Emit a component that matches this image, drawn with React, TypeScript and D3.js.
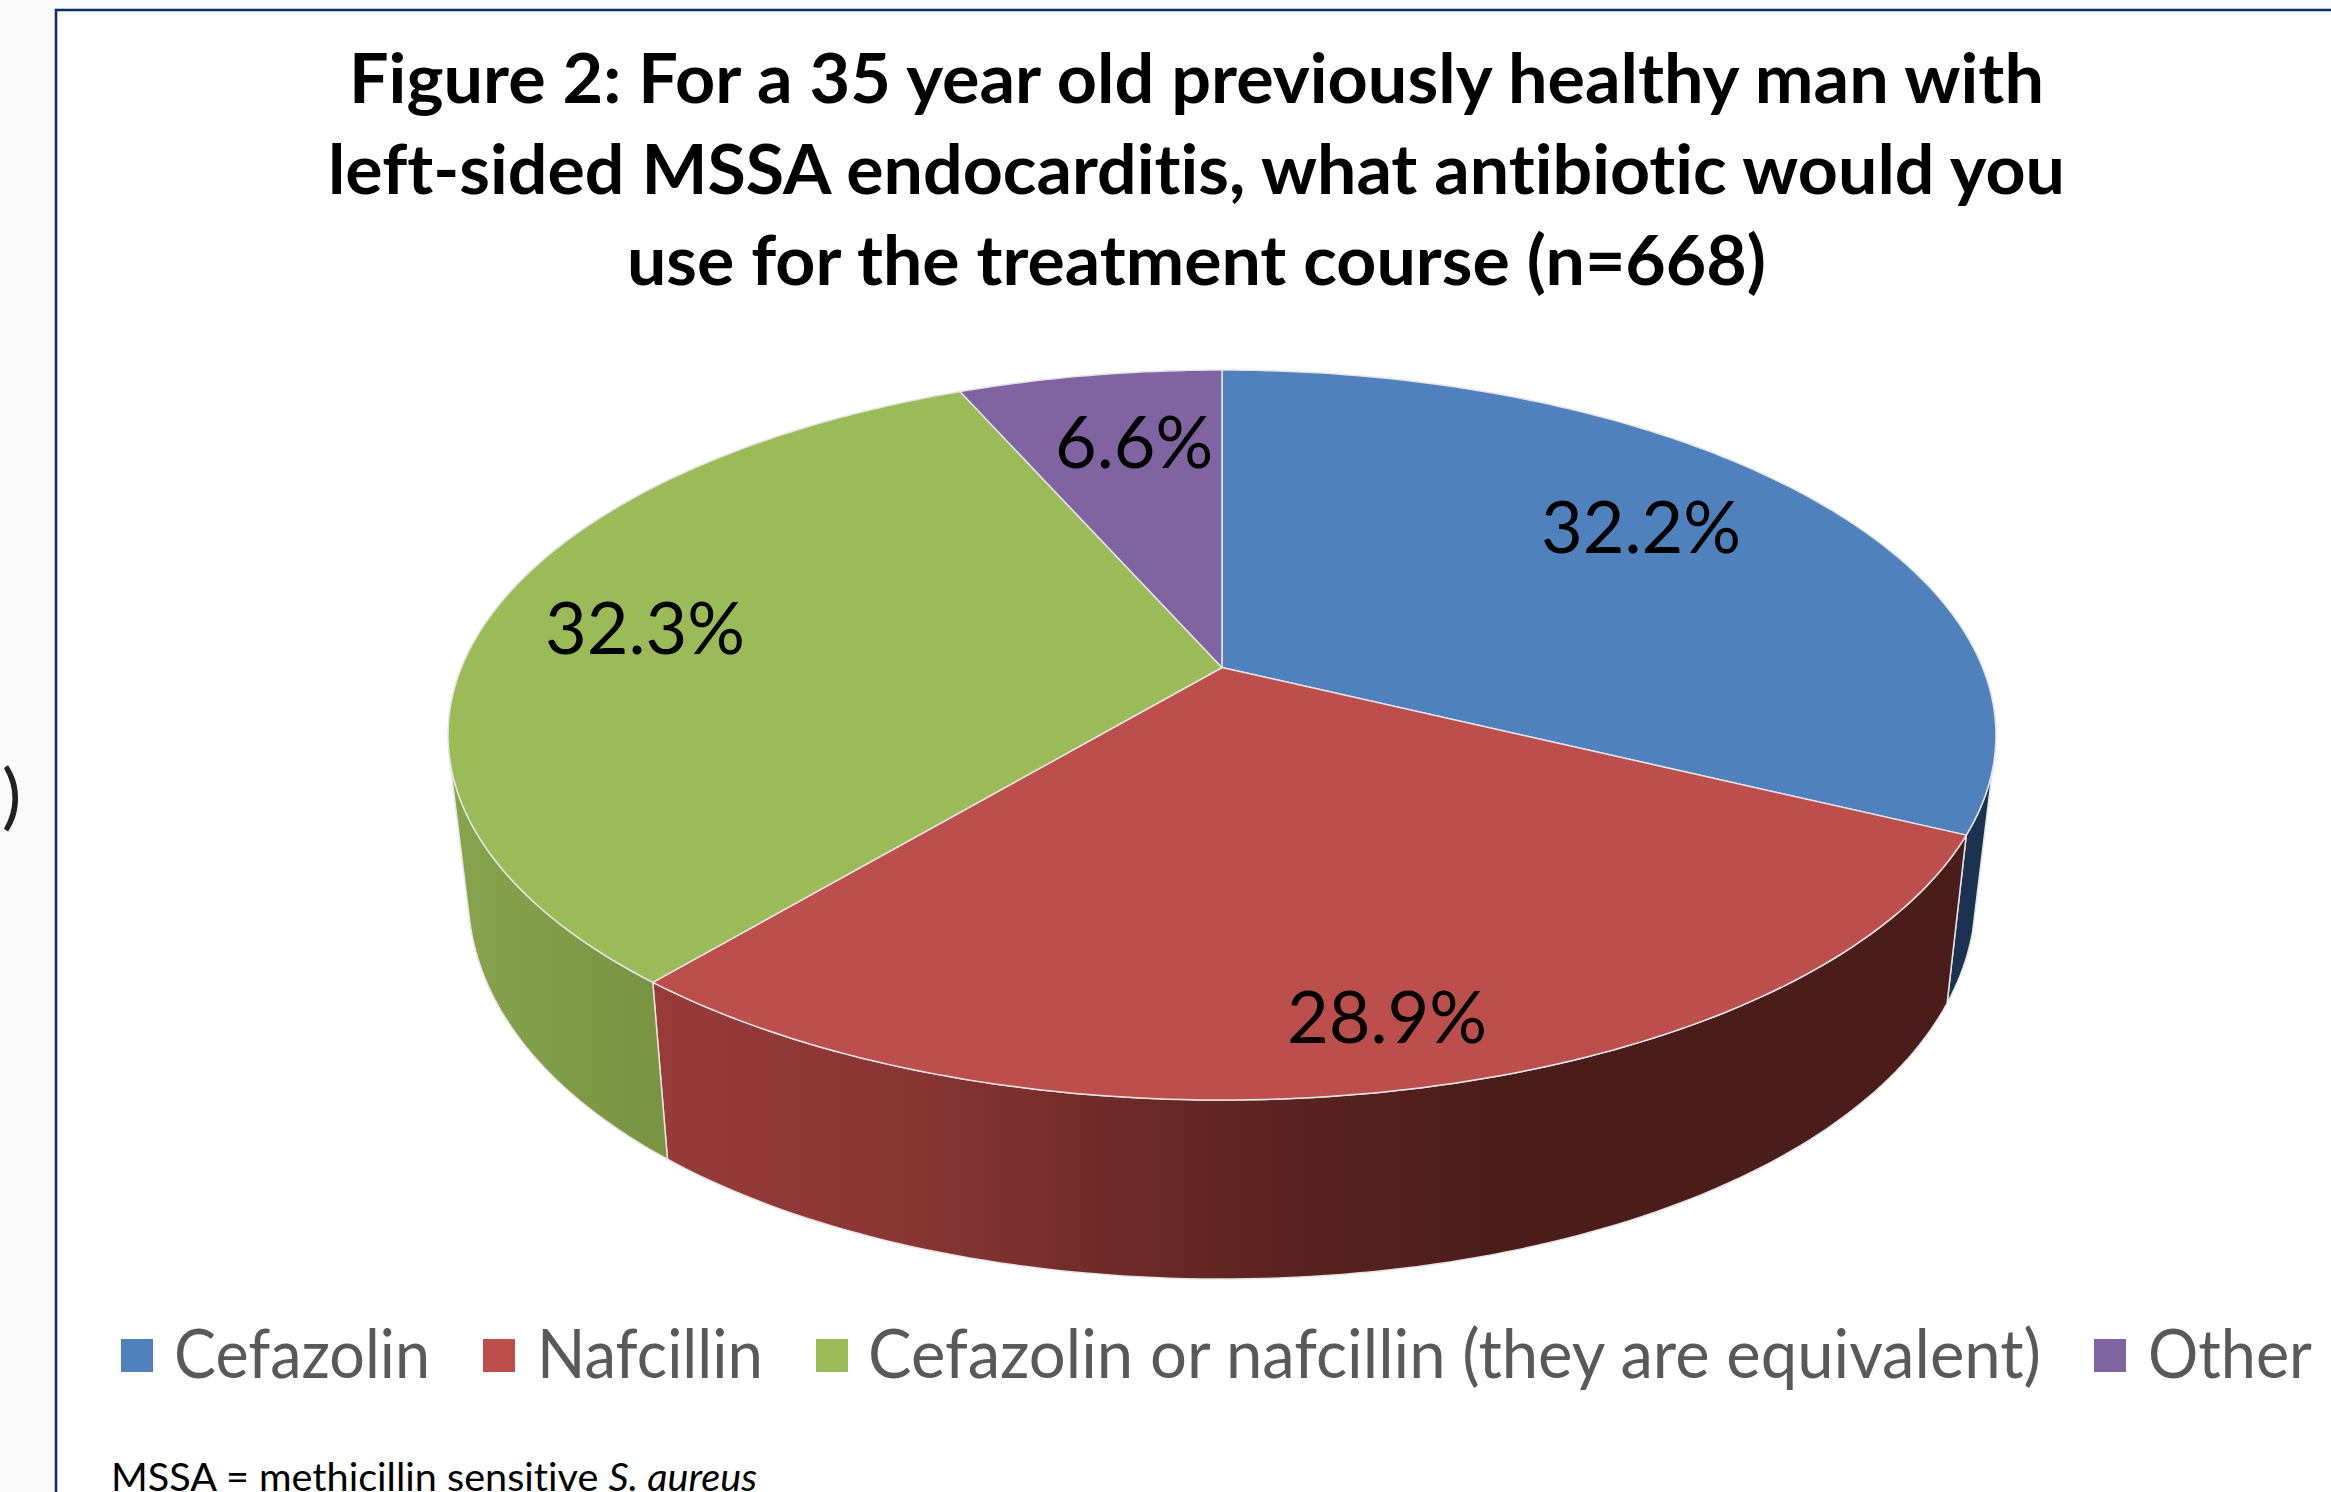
import React from "react";
import * as d3 from "d3";

const WIDTH = 2331;
const HEIGHT = 1492;

// Chart data
const categories = ["Cefazolin", "Nafcillin", "Cefazolin or nafcillin (they are equivalent)", "Other"];
const shares = [32.2, 28.9, 32.3, 6.6];
const titleLines = [
  "Figure 2: For a 35 year old previously healthy man with",
  "left-sided MSSA endocarditis, what antibiotic would you",
  "use for the treatment course (n=668)",
];

// Colours
const topColors = ["#4F81BD", "#BC4E4B", "#9BBB59", "#8064A2"];
const wallStops = [
  [[0, "#1B3350"], [1, "#1B3350"]],
  [[0, "#973B39"], [0.25, "#8A3634"], [0.6, "#5E2422"], [0.85, "#4A1D1B"], [1, "#4A1D1B"]],
  [[0, "#87A44D"], [1, "#789342"]],
  [[0, "#5F4A79"], [1, "#5F4A79"]],
];

// Layout, separate from the values
const labelCenters = [[1641, 528], [1387, 1018], [645, 629], [1134, 443]];
const legendSwatchX = [121, 483, 816, 2094];
const legendText = [[174, 256], [537, 226], [868, 1173], [2148, 164]];
const titleExtent = [[349, 1695], [328, 1737], [627, 1139]];
const titleBaselines = [102.5, 193.5, 285];

// Perspective view of the pie disc: v runs from back (-1) to front (1)
const topRim = (a: number, r = 1): [number, number] => {
  const u = r * Math.sin(a);
  const v = -r * Math.cos(a);
  const d = 1 - 0.185 * v;
  return [1222 + (760.6 * u) / d, 667.5 + (352.5 * v) / d];
};
const bottomRim = (a: number): [number, number] => {
  const u = Math.sin(a);
  const v = -Math.cos(a);
  return [1222 + (741 * u) / (1 - 0.185 * v), 817 + (402 * v) / (1 - 0.13 * v)];
};

const deg = (d: number) => (d * Math.PI) / 180;
const WALL_START = deg(106);
const WALL_END = deg(255.5);

const sweep = (a0: number, a1: number) => {
  const n = Math.max(2, Math.ceil(Math.abs(a1 - a0) / deg(1)));
  return d3.range(n + 1).map((i) => a0 + ((a1 - a0) * i) / n);
};

const line = d3.line<[number, number]>();

export default function App() {
  const arcs = d3.pie<number>().sort(null)(shares);

  const wallX = d3.scaleLinear().domain([0, 1]).range([topRim(deg(220))[0], 1640]);

  return (
    <svg
      width={WIDTH}
      height={HEIGHT}
      viewBox={`0 0 ${WIDTH} ${HEIGHT}`}
      style={{ position: "absolute", left: 0, top: 0, fontFamily: "Lato", fontVariantLigatures: "none" }}
    >
      <defs>
        {wallStops.map((stops, i) => (
          <linearGradient
            key={i}
            id={`wall-${i}`}
            gradientUnits="userSpaceOnUse"
            x1={i === 2 ? 450 : wallX(0)}
            x2={i === 2 ? 665 : wallX(1)}
            y1={0}
            y2={0}
          >
            {stops.map(([o, c]) => (
              <stop key={o as number} offset={o as number} stopColor={c as string} />
            ))}
          </linearGradient>
        ))}
      </defs>

      <rect width={WIDTH} height={HEIGHT} fill="#fafafa" />
      <rect x={56} y={10} width={WIDTH} height={HEIGHT} fill="#fff" stroke="#0B2A6F" strokeWidth={2.5} />

      <text x={2} y={821} fontSize={72} fill="#222">)</text>

      {titleLines.map((t, i) => (
        <text
          key={t}
          x={titleExtent[i][0]}
          y={titleBaselines[i]}
          textLength={titleExtent[i][1]}
          lengthAdjust="spacingAndGlyphs"
          fontSize={68}
          fontWeight={700}
          fill="#000"
        >
          {t}
        </text>
      ))}

      {/* Walls */}
      {arcs.map((arc, i) => {
        const a0 = Math.max(arc.startAngle, WALL_START);
        const a1 = Math.min(arc.endAngle, WALL_END);
        if (a1 <= a0) return null;
        const pts = [
          ...sweep(a0, a1).map((a) => topRim(a)),
          ...sweep(a1, a0).map((a) => bottomRim(a)),
        ];
        return (
          <path
            key={i}
            d={line(pts) + "Z"}
            fill={`url(#wall-${i})`}
            stroke="#e4e4e4"
            strokeWidth={1.5}
            strokeLinejoin="round"
          />
        );
      })}

      {/* Top face */}
      {arcs.map((arc, i) => {
        const pts = [topRim(0, 0), ...sweep(arc.startAngle, arc.endAngle).map((a) => topRim(a))];
        return (
          <path
            key={i}
            d={line(pts) + "Z"}
            fill={topColors[i]}
            stroke="#e4e4e4"
            strokeWidth={1.5}
            strokeLinejoin="round"
          />
        );
      })}

      {shares.map((s, i) => (
        <text
          key={i}
          x={labelCenters[i][0]}
          y={labelCenters[i][1] + 25}
          textAnchor="middle"
          fontSize={72}
          fill="#000"
        >
          {s.toFixed(1)}%
        </text>
      ))}

      {/* Legend */}
      {categories.map((c, i) => (
        <g key={c}>
          <rect x={legendSwatchX[i]} y={1339} width={32} height={33} fill={topColors[i]} />
          <text
            x={legendText[i][0]}
            y={1378}
            textLength={legendText[i][1]}
            lengthAdjust="spacingAndGlyphs"
            fontSize={68}
            fill="#595959"
          >
            {c}
          </text>
        </g>
      ))}

      {/* Cut off by the bottom edge in the reference too */}
      <text x={111} y={1491} textLength={646} lengthAdjust="spacingAndGlyphs" fontSize={38} fill="#000">
        MSSA = methicillin sensitive <tspan fontStyle="italic">S. aureus</tspan>
      </text>
    </svg>
  );
}
